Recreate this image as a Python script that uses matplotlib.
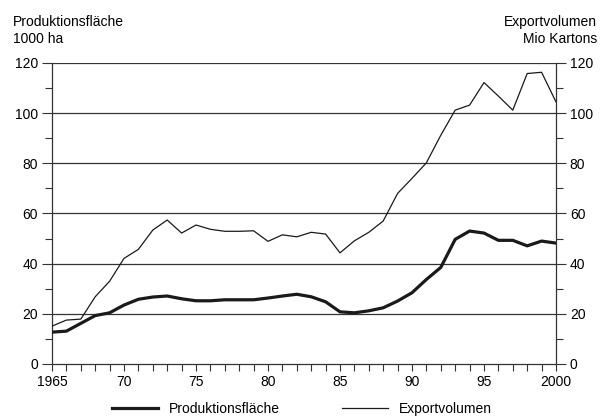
import matplotlib
matplotlib.use('Agg')
import matplotlib.pyplot as plt
from matplotlib.ticker import MultipleLocator, FuncFormatter

years = list(range(1965, 2001))

# Produktionsfläche, 1000 ha
produktion = [12.7, 13.1, 16.2, 19.3, 20.4, 23.5, 25.8, 26.7, 27.1, 26.0,
              25.2, 25.2, 25.6, 25.6, 25.6, 26.3, 27.1, 27.8, 26.8, 24.8,
              20.8, 20.4, 21.2, 22.4, 25.1, 28.4, 33.7, 38.5, 49.7, 53.0,
              52.2, 49.3, 49.3, 47.1, 49.0, 48.2]

# Exportvolumen, Mio Kartons
export = [15.1, 17.5, 17.9, 26.8, 33.0, 42.1, 45.7, 53.4, 57.4, 52.2,
          55.4, 53.7, 52.9, 52.9, 53.1, 48.9, 51.5, 50.7, 52.5, 51.8,
          44.3, 49.1, 52.5, 57.0, 68.0, 74.0, 80.2, 91.2, 101.2, 103.2,
          112.2, 106.8, 101.2, 115.8, 116.3, 104.5]

plt.rcParams['font.family'] = ['Liberation Sans', 'DejaVu Sans']
plt.rcParams['font.size'] = 10

fig = plt.figure(figsize=(6.04, 4.18), dpi=100)
ax = fig.add_axes([0.0861, 0.1292, 0.8344, 0.7201])

grid_col = '#333333'
for v in range(20, 121, 20):
    ax.axhline(v, color=grid_col, linewidth=0.9, zorder=1)

l1, = ax.plot(years, produktion, color='#1a1a1a', linewidth=2.3, zorder=3)
l2, = ax.plot(years, export, color='#1a1a1a', linewidth=0.9, zorder=3)

ax.set_xlim(1965, 2000)
ax.set_ylim(0, 120)

ax.xaxis.set_major_locator(MultipleLocator(5))
ax.xaxis.set_minor_locator(MultipleLocator(1))
ax.xaxis.set_major_formatter(FuncFormatter(
    lambda x, pos: '%d' % x if x in (1965, 2000) else '%02d' % (int(x) % 100)))
ax.yaxis.set_major_locator(MultipleLocator(20))
ax.yaxis.set_minor_locator(MultipleLocator(10))

ax.tick_params(axis='x', which='both', direction='out', length=5,
               width=0.8, color=grid_col, labelsize=10, pad=3)
ax.tick_params(axis='y', which='major', direction='out', length=7,
               width=0.8, color=grid_col, labelsize=10, pad=3,
               left=True, right=True, labelleft=True, labelright=True)
ax.tick_params(axis='y', which='minor', direction='out', length=5,
               width=0.8, color=grid_col, left=True, right=True)

for side in ['left', 'right', 'bottom']:
    ax.spines[side].set_color(grid_col)
    ax.spines[side].set_linewidth(0.9)
ax.spines['top'].set_visible(False)

fig.text(0.021, 0.963, 'Produktionsfläche\n1000 ha', ha='left', va='top',
         fontsize=10, linespacing=1.2)
fig.text(0.988, 0.963, 'Exportvolumen\nMio Kartons', ha='right', va='top',
         fontsize=10, linespacing=1.2)

fig.legend([l1, l2], ['Produktionsfläche', 'Exportvolumen'],
           loc='lower center', bbox_to_anchor=(0.5, -0.025), ncol=2,
           frameon=False, fontsize=10, handlelength=3.3, columnspacing=4.5,
           handletextpad=0.8)

fig.savefig('out.png', dpi=100, facecolor='white')
